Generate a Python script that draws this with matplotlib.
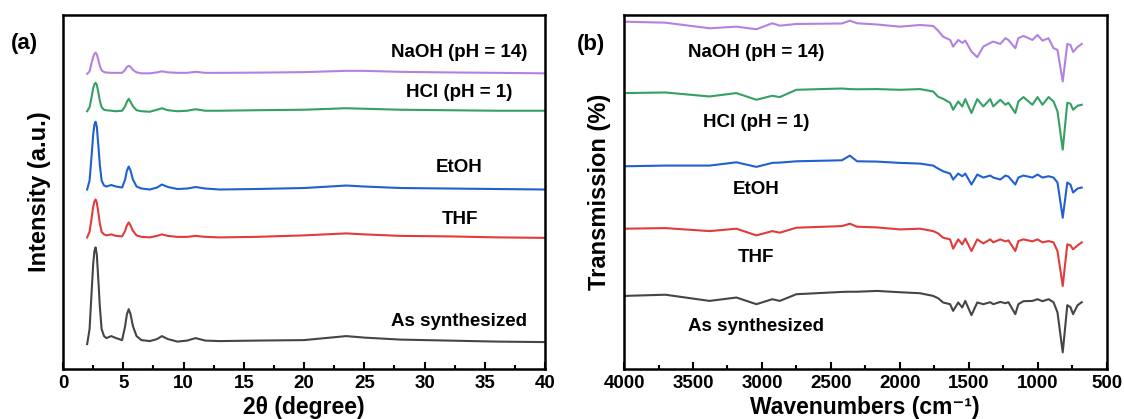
import matplotlib
matplotlib.use("Agg")
import matplotlib.pyplot as plt
from matplotlib.ticker import MultipleLocator

plt.rcParams["font.family"] = ["Liberation Sans", "DejaVu Sans"]
plt.rcParams["font.weight"] = "bold"

# ---- (a) XRD patterns, intensity in arbitrary units (already offset) ----
two_theta = [2.0, 2.2, 2.35, 2.5, 2.6, 2.7, 2.8, 2.95, 3.05, 3.2, 3.4, 3.6, 4.0, 4.4, 4.9,
             5.15, 5.3, 5.45, 5.6, 5.8, 6.1, 6.5, 7.2, 7.8, 8.2, 8.7, 9.5, 10.3, 11.0, 11.8,
             13, 16, 20, 23.5, 25, 28, 32, 36, 40]
xrd_as_synth = [25, 40, 73, 105, 118, 122, 115, 85, 63, 40, 33, 31, 33, 31, 29,
                43, 55, 60, 55, 43, 33, 29, 28, 30, 33, 30, 27.5, 28.5, 31, 28.5,
                28, 28.5, 29, 33, 31.5, 29.5, 28.5, 27.5, 27]
xrd_thf = [132, 137.5, 149.5, 162.5, 168, 170, 167, 155, 146, 137.5, 135, 134, 135, 133.5, 133,
           138.5, 144, 147, 144, 138.5, 134, 132.5, 132, 133.5, 135, 133.5, 132.5, 132.5, 133.5, 132.5,
           132, 132.5, 134, 136, 135, 133.5, 133, 132, 131.5]
xrd_etoh = [180, 189, 211, 235, 245, 248, 243, 221, 205, 189, 184, 183, 184.5, 183, 182,
            190, 199, 203, 199, 190, 183, 181, 180, 182, 185, 182.5, 180.5, 181, 182.5, 181,
            180, 180.5, 181.5, 184, 183, 181.5, 181, 180.5, 180]
xrd_hcl = [258.5, 262.5, 271.5, 281.5, 285.5, 287, 285, 276, 269, 262.5, 260, 259.5, 259, 258.5, 259,
           263.5, 268, 271, 268, 263.5, 259.5, 258.5, 258, 260, 261.5, 259.5, 258.5, 259, 260.5, 259,
           259, 259.5, 260, 261.5, 261, 260, 259.5, 259, 259]
xrd_naoh = [296, 298.5, 306, 313, 316, 317.3, 315.5, 309, 304, 299.5, 297.8, 297.3, 297, 297, 297,
            300, 303, 304, 303, 300, 297.5, 296.5, 296.5, 297.5, 298.5, 297.5, 297, 297, 298, 297,
            297, 297.2, 297.7, 299, 299, 298, 297.4, 297, 296.5]

# ---- (b) FTIR spectra, transmission in arbitrary units (already offset) ----
wavenumber = [4000, 3700, 3380, 3185, 3040, 2925, 2870, 2750, 2420, 2362, 2310, 2166, 2000,
              1853, 1758, 1722, 1686, 1635, 1613, 1576, 1547, 1525, 1480, 1438, 1394, 1344,
              1322, 1271, 1234, 1212, 1162, 1140, 1103, 1038, 1001, 965, 921, 885, 856, 818,
              785, 762, 743, 710, 680]
ir_as_synth = [73.3, 74.5, 68.3, 71.7, 65, 70, 68.3, 75, 77.3, 77.5, 77.5, 78.3, 77,
               76, 73.3, 71, 66.7, 65, 58.3, 66.7, 61.7, 68.3, 54, 66.7, 65, 67,
               65, 67.3, 66, 67, 55, 65, 68, 68.3, 70, 68, 70, 67, 56.7, 16.7,
               64, 62, 55, 64, 67]
ir_thf = [140.7, 141.3, 138.3, 140.7, 134, 138.3, 136.7, 141.7, 143.3, 145.7, 142.7, 142, 140,
          140.7, 138.3, 136, 131.7, 130, 120.7, 130, 125, 130.7, 118.3, 130, 126, 130,
          127, 130, 128, 129, 118.3, 128.3, 130, 128, 130, 127, 128.3, 127, 118.3, 83.3,
          125, 124, 120, 124, 127]
ir_etoh = [203.3, 204, 204, 207.3, 202.7, 206.7, 207, 208.3, 209.3, 214, 208.3, 208, 206.7,
           206, 204, 201, 198.3, 196, 190, 196, 193.3, 196, 185, 195, 192, 194,
           192, 190, 194, 193, 185, 192, 194, 192, 195, 192, 193.3, 192, 187, 151.7,
           187, 185, 177, 181, 182]
ir_hcl = [276.7, 277.3, 273.3, 276.7, 270, 274, 272.7, 280, 281.3, 280.7, 280.5, 280.7, 280,
          280.7, 278.3, 273, 271, 267, 260, 268.3, 263.3, 270.7, 256.7, 270.7, 263.3, 270.7,
          263.3, 270, 265, 267, 256.7, 268.3, 272.7, 265, 272.7, 265, 272.7, 268.3, 258.3, 220,
          267, 266, 260, 264, 265]
ir_naoh = [348.3, 347.3, 341.7, 343.3, 340.7, 346.7, 344.3, 346, 346.5, 349.3, 346.7, 345.5, 343.3,
           345, 344, 339.3, 333.3, 330, 323.3, 330, 327, 329.3, 318.3, 312.7, 323.3, 327,
           328.3, 326, 331.7, 330, 321.7, 331.7, 334, 330, 335, 329.3, 331.7, 321.7, 320, 288.3,
           326, 325, 318, 323, 326]

sample_names = ["As synthesized", "THF", "EtOH", "HCl (pH = 1)", "NaOH (pH = 14)"]
colors = ["#454545", "#e23b3b", "#2060d0", "#34a061", "#b481e0"]
xrd_curves = [xrd_as_synth, xrd_thf, xrd_etoh, xrd_hcl, xrd_naoh]
ir_curves = [ir_as_synth, ir_thf, ir_etoh, ir_hcl, ir_naoh]
# label heights (same units as curves)
xrd_label_y = [48, 150, 202, 277, 317]
ir_label_y = [43, 112, 180, 247, 317]

fig = plt.figure(figsize=(11.24, 4.19), dpi=100)
ax1 = fig.add_axes([0.0561, 0.1193, 0.4288, 0.8449])
ax2 = fig.add_axes([0.5552, 0.1193, 0.4293, 0.8449])

for y, c in zip(xrd_curves, colors):
    ax1.plot(two_theta, y, color=c, linewidth=1.5)
for name, ly in zip(sample_names, xrd_label_y):
    ax1.text(32.9, ly, name, ha="center", va="center", fontsize=13.5, fontweight="bold")

for y, c in zip(ir_curves, colors):
    ax2.plot(wavenumber, y, color=c, linewidth=1.5)
for name, ly in zip(sample_names, ir_label_y):
    ax2.text(3040, ly, name, ha="center", va="center", fontsize=13.5, fontweight="bold")

ax1.set_xlim(0, 40)
ax1.xaxis.set_major_locator(MultipleLocator(5))
ax1.xaxis.set_minor_locator(MultipleLocator(2.5))
ax1.set_xlabel("2θ (degree)", fontsize=16.5, fontweight="bold")
ax1.set_ylabel("Intensity (a.u.)", fontsize=17, fontweight="bold")
ax1.xaxis.set_label_coords(0.5, -0.077)
ax1.yaxis.set_label_coords(-0.025, 0.5)

ax2.set_xlim(4000, 500)
ax2.xaxis.set_major_locator(MultipleLocator(500))
ax2.xaxis.set_minor_locator(MultipleLocator(250))
ax2.set_xlabel("Wavenumbers (cm⁻¹)", fontsize=16.5, fontweight="bold")
ax2.set_ylabel("Transmission (%)", fontsize=17, fontweight="bold")
ax2.xaxis.set_label_coords(0.5, -0.077)
ax2.yaxis.set_label_coords(-0.027, 0.5)

for ax in (ax1, ax2):
    ax.set_ylim(0, 355)
    ax.set_yticks([])
    for sp in ax.spines.values():
        sp.set_linewidth(1.8)
    ax.tick_params(axis="x", which="major", direction="in", length=5, width=1.5,
                   labelsize=13.5, pad=4)
    ax.tick_params(axis="x", which="minor", direction="in", length=3, width=1.5)
    for lab in ax.get_xticklabels():
        lab.set_fontweight("bold")

fig.text(0.022, 0.897, "(a)", ha="center", va="center", fontsize=16, fontweight="bold")
fig.text(0.526, 0.893, "(b)", ha="center", va="center", fontsize=16, fontweight="bold")

fig.savefig("out.png", dpi=100)
